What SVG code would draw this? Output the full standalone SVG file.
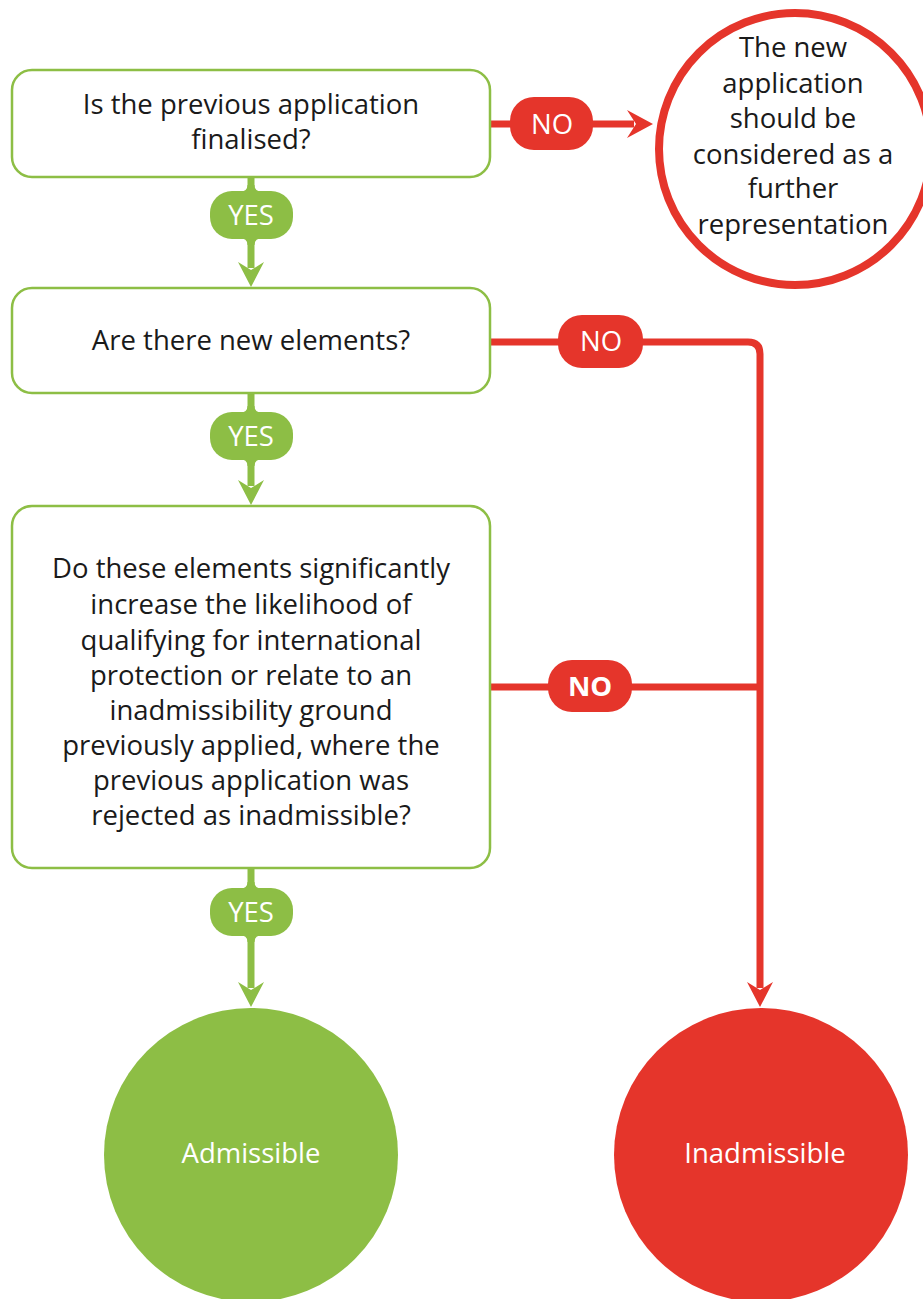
<svg xmlns="http://www.w3.org/2000/svg" width="923" height="1299" viewBox="0 0 923 1299">
<style>
.box{fill:#fff;stroke:#8dbe45;stroke-width:2.5}
.t{font-family:"Open Sans","Liberation Sans",sans-serif;font-size:27.5px;fill:#1a1a1a;text-anchor:middle}
.w{font-family:"Open Sans","Liberation Sans",sans-serif;font-size:27.5px;fill:#fff;text-anchor:middle}
.g{stroke:#8dbe45;stroke-width:7;fill:none}
.r{stroke:#e5352b;stroke-width:7;fill:none}
.gf{fill:#8dbe45}
.rf{fill:#e5352b}
</style>
<defs>
<path id="neckTop" d="M-12,0 Q-3.5,0 -3.5,-7 L3.5,-7 Q3.5,0 12,0 Z"/>
<path id="neckBot" d="M-12,0 Q-3.5,0 -3.5,7 L3.5,7 Q3.5,0 12,0 Z"/>
</defs>
<rect width="923" height="1299" fill="#fff"/>
<g id="connectors">
<line class="g" x1="251" y1="177" x2="251" y2="268"/>
<path class="gf" d="M251,287 L238,262 L251,270 L264,262 Z"/>
<line class="g" x1="251" y1="393" x2="251" y2="486"/>
<path class="gf" d="M251,505 L238,480 L251,488 L264,480 Z"/>
<line class="g" x1="251" y1="868" x2="251" y2="988"/>
<path class="gf" d="M251,1007 L238,982 L251,990 L264,982 Z"/>
<line class="r" x1="490" y1="124" x2="634" y2="124"/>
<path class="rf" d="M653,124 L627,110 L636,124 L627,138 Z"/>
<path class="r" d="M490,342 H748 Q760,342 760,354 V988"/>
<path class="rf" d="M760,1007 L747,982 L760,990 L773,982 Z"/>
<line class="r" x1="490" y1="687" x2="760" y2="687"/>
<g id="yes1"><use href="#neckTop" class="gf" x="251" y="192"/><use href="#neckBot" class="gf" x="251" y="238"/><rect class="gf" x="210" y="191" width="83" height="48" rx="22"/><text class="w" x="251" y="225">YES</text></g>
<g id="yes2"><use href="#neckTop" class="gf" x="251" y="413"/><use href="#neckBot" class="gf" x="251" y="459"/><rect class="gf" x="210" y="412" width="83" height="48" rx="22"/><text class="w" x="251" y="446">YES</text></g>
<g id="yes3"><use href="#neckTop" class="gf" x="251" y="889"/><use href="#neckBot" class="gf" x="251" y="935"/><rect class="gf" x="210" y="888" width="83" height="48" rx="22"/><text class="w" x="251" y="922">YES</text></g>
<g id="no1"><rect class="rf" x="510" y="97" width="83" height="53" rx="24"/><text class="w" x="552" y="134">NO</text></g>
<g id="no2"><rect class="rf" x="558" y="315" width="85" height="53" rx="24"/><text class="w" x="601" y="351">NO</text></g>
<g id="no3"><rect class="rf" x="548" y="660" width="84" height="52" rx="24"/><text class="w" x="590" y="696" font-weight="bold">NO</text></g>
</g>
<g id="q1">
<rect class="box" x="12" y="70" width="478" height="107" rx="20"/>
<text class="t" x="251" y="114">Is the previous application</text>
<text class="t" x="251" y="149">finalised?</text>
</g>
<g id="q2">
<rect class="box" x="12" y="288" width="478" height="105" rx="20"/>
<text class="t" x="251" y="350">Are there new elements?</text>
</g>
<g id="q3">
<rect class="box" x="12" y="506" width="478" height="362" rx="20"/>
<text class="t" x="251" y="578">Do these elements significantly</text>
<text class="t" x="251" y="614">increase the likelihood of</text>
<text class="t" x="251" y="650">qualifying for international</text>
<text class="t" x="251" y="685">protection or relate to an</text>
<text class="t" x="251" y="720">inadmissibility ground</text>
<text class="t" x="251" y="755">previously applied, where the</text>
<text class="t" x="251" y="790">previous application was</text>
<text class="t" x="251" y="825">rejected as inadmissible?</text>
</g>
<g id="further">
<circle cx="795" cy="149" r="136" fill="#fff" stroke="#e5352b" stroke-width="8"/>
<text class="t" x="793" y="57">The new</text>
<text class="t" x="793" y="93">application</text>
<text class="t" x="793" y="128">should be</text>
<text class="t" x="793" y="164">considered as a</text>
<text class="t" x="793" y="198">further</text>
<text class="t" x="793" y="234">representation</text>
</g>
<g id="admissible">
<circle cx="251" cy="1155" r="147" fill="#8dbe45"/>
<text class="w" x="251" y="1163">Admissible</text>
</g>
<g id="inadmissible">
<circle cx="761" cy="1155" r="147" fill="#e5352b"/>
<text class="w" x="765" y="1163">Inadmissible</text>
</g>
</svg>
